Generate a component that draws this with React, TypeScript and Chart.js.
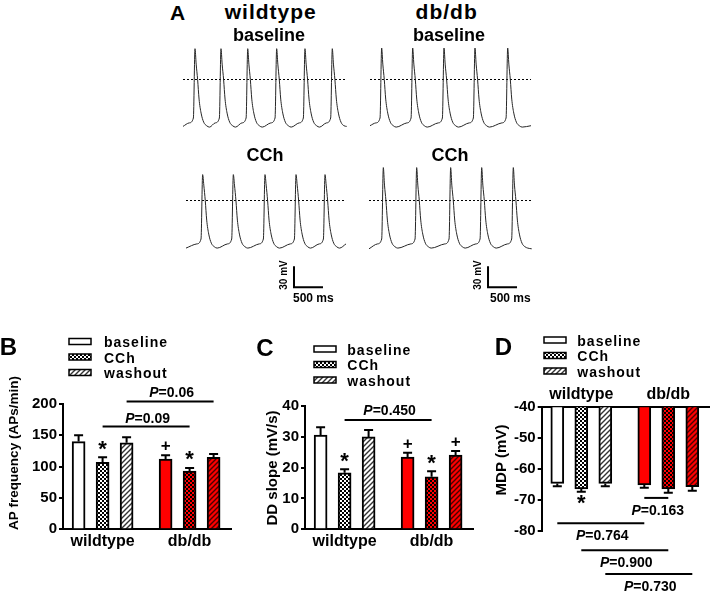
import React, { useEffect, useRef } from 'react';
import { Chart, registerables } from 'chart.js';

Chart.register(...registerables);

const FONT = 'Arial, "Liberation Sans", Helvetica, sans-serif';
Chart.defaults.font.family = FONT;
Chart.defaults.color = '#000';

/* ================= Panel A: action-potential recordings ================= */
// one AP: time relative to the peak (ms) and potential (mV); null = the trace's own peak
const AP_SHAPE_MS = [-100, -28, 0, 20, 45, 70, 105, 150, 200, 250];
const AP_SHAPE_MV: (number | null)[] = [-62, -55, null, 22, 0, -28, -48, -61, -66, -68];

const WT_BASELINE_PEAKS_MS = [207, 655, 1116, 1615, 2103, 2574];
const DB_BASELINE_PEAKS_MS = [201, 736, 1276, 1810, 2374];
const WT_CCH_PEAKS_MS = [287, 816, 1362, 1897, 2397];
const DB_CCH_PEAKS_MS = [247, 822, 1408, 1943, 2488];

// order: wildtype baseline, db/db baseline, wildtype CCh, db/db CCh
const TRACE_PEAK_MV = [44, 45, 37, 47];
const TRACE_START_MV = [-67, -66, -68, -69];
const TRACE_END_MS = [2822, 2776, 2759, 2805];
const TRACE_END_MV = [-67, -66, -62, -69];
const TRACE_PEAKS = [WT_BASELINE_PEAKS_MS, DB_BASELINE_PEAKS_MS, WT_CCH_PEAKS_MS, DB_CCH_PEAKS_MS];

const SCALE_BAR_MV = 30;
const SCALE_BAR_MS = 500;
// corner (top of the vertical bar) of the calibration bars drawn under the CCh traces
const SCALE_BAR_AT: ({ ms: number; mv: number } | null)[] = [null, null, { ms: 1862, mv: -94 }, { ms: 2052, mv: -94 }];

/* ================= Panels B-D: bar charts ================= */
const GROUPS = ['wildtype', 'db/db'];
const CONDITIONS = ['baseline', 'CCh', 'washout'];

// B: AP frequency (APs/min)  [wildtype, db/db]
const B_BASELINE = [140, 112];
const B_CCH = [107, 93];
const B_WASHOUT = [138, 115];
const B_BASELINE_SEM = [10, 6];
const B_CCH_SEM = [8, 5];
const B_WASHOUT_SEM = [9, 5];
const B_MARKS = [['', '+'], ['*', '*'], ['', '']];

// C: DD slope (mV/s)
const C_BASELINE = [30.5, 23.4];
const C_CCH = [18.3, 17.0];
const C_WASHOUT = [29.9, 24.0];
const C_BASELINE_SEM = [2.5, 1.4];
const C_CCH_SEM = [1.1, 1.8];
const C_WASHOUT_SEM = [2.2, 1.3];
const C_MARKS = [['', '+'], ['*', '*'], ['', '+']];

// D: MDP (mV)
const D_BASELINE = [-64.6, -65.1];
const D_CCH = [-66.4, -66.4];
const D_WASHOUT = [-64.6, -65.7];
const D_BASELINE_SEM = [0.9, 0.9];
const D_CCH_SEM = [0.9, 1.2];
const D_WASHOUT_SEM = [0.9, 1.3];
const D_MARKS = [['', ''], ['*', ''], ['', '']];

/* ================= layout ================= */
const PX_PER_MS = 29 / 500;
const PX_PER_MV = 21 / 30;
const TRACE_W = 166;
const T_MAX = TRACE_W / PX_PER_MS;
const MV_TOP = 55;
const TRACE_BOXES = [
  { left: 183, top: 41, h: 91 },
  { left: 370, top: 41, h: 91 },
  { left: 186, top: 162, h: 130 },
  { left: 369, top: 162, h: 130 },
];

const GROUP_GAP = 3.625;
const X_MIN = 0.35;
const X_MAX = 7.35;
const BAR_PX = 13;
const CAP_HALF = 4.5;
const groupX = (g: number) => 2 + g * GROUP_GAP;

const PANELS: any[] = [
  {
    letter: 'B', letterAt: [8.3, 346],
    box: { left: 0, top: 330, w: 240, h: 230 },
    pad: { left: 63, top: 74, right: 9, bottom: 30.7 },
    yMin: 0, yMax: 200, step: 50, xPos: 'bottom',
    values: [B_BASELINE, B_CCH, B_WASHOUT], sems: [B_BASELINE_SEM, B_CCH_SEM, B_WASHOUT_SEM],
    marks: B_MARKS, errDir: 1, markGap: 9,
    pLines: [
      { a: [0, 1], b: [1, 1], level: 164, label: '0.09' },
      { a: [0, 2], b: [1, 2], level: 204, label: '0.06' },
    ],
    pSide: -1, pGap: 9,
    legend: { boxX: 69, textX: 104, rows: [341.5, 357, 372.5] },
    yTitle: { text: 'AP frequency (APs/min)', at: [14.5, 453], size: 13.5 },
  },
  {
    letter: 'C', letterAt: [265, 347.5],
    box: { left: 240, top: 330, w: 240, h: 230 },
    pad: { left: 65, top: 75.7, right: 7, bottom: 30.7 },
    yMin: 0, yMax: 40, step: 10, xPos: 'bottom',
    values: [C_BASELINE, C_CCH, C_WASHOUT], sems: [C_BASELINE_SEM, C_CCH_SEM, C_WASHOUT_SEM],
    marks: C_MARKS, errDir: 1, markGap: 9,
    pLines: [{ a: [0, 1], b: [1, 1], level: 35.4, label: '0.450' }],
    pSide: -1, pGap: 10,
    legend: { boxX: 314, textX: 347.3, rows: [349, 364.5, 380] },
    yTitle: { text: 'DD slope (mV/s)', at: [273.3, 468], size: 15 },
  },
  {
    letter: 'D', letterAt: [503.3, 346],
    box: { left: 470, top: 330, w: 240, h: 261 },
    pad: { left: 71.7, top: 77.3, right: 0.3, bottom: 60 },
    yMin: -80, yMax: -40, step: 10, xPos: 'top',
    values: [D_BASELINE, D_CCH, D_WASHOUT], sems: [D_BASELINE_SEM, D_CCH_SEM, D_WASHOUT_SEM],
    marks: D_MARKS, errDir: -1, markGap: 11,
    pLines: [
      { a: [1, 0], b: [1, 1], level: -69.3, label: '0.163' },
      { a: [0, 0], b: [1, 0], level: -77.5, label: '0.764' },
      { a: [0, 1], b: [1, 1], level: -86.2, label: '0.900' },
      { a: [0, 2], b: [1, 2], level: -93.9, label: '0.730' },
    ],
    pSide: 1, pGap: 12,
    legend: { boxX: 544, textX: 577.3, rows: [340, 355.5, 371] },
    yTitle: { text: 'MDP (mV)', at: [501.7, 460], size: 15 },
  },
];

// panel A text: baseline-positioned
const A_LABELS: any[] = [
  { text: 'A', x: 177.5, base: 20, size: 21 },
  { text: 'wildtype', x: 270.8, base: 18.5, size: 21, ls: 1 },
  { text: 'db/db', x: 446.7, base: 18.5, size: 21, ls: 1 },
  { text: 'baseline', x: 269, base: 41.7, size: 18 },
  { text: 'baseline', x: 449, base: 41.7, size: 18 },
  { text: 'CCh', x: 265, base: 161.7, size: 18 },
  { text: 'CCh', x: 450, base: 161.7, size: 18 },
  { text: '500 ms', x: 293, base: 301.7, size: 12, left: true },
  { text: '500 ms', x: 490, base: 301.7, size: 12, left: true },
  { text: '30 mV', x: 284.3, cy: 275, size: 10, rot: true },
  { text: '30 mV', x: 478.3, cy: 275, size: 10, rot: true },
];

/* ================= helpers ================= */
type Part = { text: string; italic?: boolean };
function drawInk(ctx: CanvasRenderingContext2D, parts: Part[], x: number, cy: number, size: number, align = 'center', spacing = 0) {
  ctx.save();
  (ctx as any).letterSpacing = spacing + 'px';
  const fonts = parts.map((p) => `${p.italic ? 'italic ' : ''}bold ${size}px ${FONT}`);
  let w = 0, asc = 0, desc = 0;
  parts.forEach((p, i) => {
    ctx.font = fonts[i];
    const m = ctx.measureText(p.text);
    w += m.width;
    asc = Math.max(asc, m.actualBoundingBoxAscent);
    desc = Math.max(desc, m.actualBoundingBoxDescent);
  });
  let px = align === 'center' ? x - w / 2 : x;
  const py = cy + (asc - desc) / 2;
  ctx.fillStyle = '#000';
  ctx.textAlign = 'left';
  ctx.textBaseline = 'alphabetic';
  parts.forEach((p, i) => {
    ctx.font = fonts[i];
    ctx.fillText(p.text, px, py);
    px += ctx.measureText(p.text).width;
  });
  ctx.restore();
}

function makeChecker(a: string, b: string, cell = 2) {
  const c = document.createElement('canvas');
  c.width = c.height = cell * 2;
  const x = c.getContext('2d')!;
  x.fillStyle = b;
  x.fillRect(0, 0, cell * 2, cell * 2);
  x.fillStyle = a;
  x.fillRect(0, 0, cell, cell);
  x.fillRect(cell, cell, cell, cell);
  return x.createPattern(c, 'repeat')!;
}
function makeHatch(line: string, bg: string, s = 5) {
  const c = document.createElement('canvas');
  c.width = c.height = s;
  const x = c.getContext('2d')!;
  x.fillStyle = bg;
  x.fillRect(0, 0, s, s);
  x.strokeStyle = line;
  x.lineWidth = 1.4;
  x.beginPath();
  x.moveTo(-1, s + 1); x.lineTo(s + 1, -1);
  x.moveTo(-1, 1); x.lineTo(1, -1);
  x.moveTo(s - 1, s + 1); x.lineTo(s + 1, s - 1);
  x.stroke();
  return x.createPattern(c, 'repeat')!;
}

function buildTrace(i: number) {
  const pts: { x: number; y: number }[] = [{ x: 0, y: TRACE_START_MV[i] }];
  TRACE_PEAKS[i].forEach((p) => {
    AP_SHAPE_MS.forEach((dt, k) => {
      const t = p + dt;
      const mv = AP_SHAPE_MV[k];
      if (t > 0 && t < TRACE_END_MS[i]) pts.push({ x: t, y: mv === null ? TRACE_PEAK_MV[i] : mv });
    });
  });
  pts.push({ x: TRACE_END_MS[i], y: TRACE_END_MV[i] });
  return pts;
}

function traceChart(canvas: HTMLCanvasElement, i: number) {
  const h = TRACE_BOXES[i].h;
  const datasets: any[] = [
    {
      data: buildTrace(i), showLine: true, borderColor: '#262626', borderWidth: 1,
      pointRadius: 0, cubicInterpolationMode: 'monotone', fill: false,
    },
    {
      data: [{ x: 0, y: 0 }, { x: TRACE_END_MS[i], y: 0 }], showLine: true, borderColor: '#000',
      borderWidth: 1, borderDash: [2, 2], pointRadius: 0, fill: false,
    },
  ];
  const sb = SCALE_BAR_AT[i];
  if (sb) {
    datasets.push({
      data: [
        { x: sb.ms, y: sb.mv },
        { x: sb.ms, y: sb.mv - SCALE_BAR_MV },
        { x: sb.ms + SCALE_BAR_MS, y: sb.mv - SCALE_BAR_MV },
      ],
      showLine: true, borderColor: '#000', borderWidth: 2, pointRadius: 0, fill: false, tension: 0,
      borderJoinStyle: 'miter', clip: false,
    });
  }
  return new Chart(canvas, {
    type: 'scatter',
    data: { datasets },
    options: {
      responsive: false, animation: false, events: [],
      layout: { padding: 0 },
      plugins: { legend: { display: false }, tooltip: { enabled: false } },
      scales: {
        x: { type: 'linear', display: false, min: 0, max: T_MAX },
        y: { type: 'linear', display: false, min: MV_TOP - h / PX_PER_MV, max: MV_TOP },
      },
    } as any,
  });
}

function barChart(canvas: HTMLCanvasElement, P: any, fills: any[][]) {
  const ox = P.box.left, oy = P.box.top;
  const decor = {
    id: 'decor' + P.letter,
    afterDatasetsDraw(chart: any) {
      const ctx: CanvasRenderingContext2D = chart.ctx;
      const ys = chart.scales.y;
      ctx.save();
      ctx.strokeStyle = '#000';
      ctx.lineWidth = 2;
      CONDITIONS.forEach((_, c) => {
        const meta = chart.getDatasetMeta(c);
        meta.data.forEach((el: any, g: number) => {
          const v = P.values[c][g];
          const e = P.sems[c][g];
          const yEnd = ys.getPixelForValue(v + P.errDir * e);
          ctx.beginPath();
          ctx.moveTo(el.x, el.y);
          ctx.lineTo(el.x, yEnd);
          ctx.moveTo(el.x - CAP_HALF, yEnd);
          ctx.lineTo(el.x + CAP_HALF, yEnd);
          ctx.stroke();
          const mk = P.marks[c][g];
          if (mk) drawInk(ctx, [{ text: mk }], el.x, yEnd - P.errDir * P.markGap, mk === '*' ? 22 : 17);
        });
      });
      P.pLines.forEach((pl: any) => {
        const xa = chart.getDatasetMeta(pl.a[1]).data[pl.a[0]].x;
        const xb = chart.getDatasetMeta(pl.b[1]).data[pl.b[0]].x;
        const yy = ys.getPixelForValue(pl.level);
        ctx.beginPath();
        ctx.moveTo(xa, yy);
        ctx.lineTo(xb, yy);
        ctx.stroke();
        drawInk(ctx, [{ text: 'P', italic: true }, { text: '=' + pl.label }], (xa + xb) / 2 + 1.5, yy + P.pSide * P.pGap, 14);
      });
      ctx.restore();
    },
    afterDraw(chart: any) {
      const ctx: CanvasRenderingContext2D = chart.ctx;
      drawInk(ctx, [{ text: P.letter }], P.letterAt[0] - ox, P.letterAt[1] - oy, 24);
      const L = P.legend;
      CONDITIONS.forEach((name, c) => {
        const ry = L.rows[c] - oy;
        ctx.save();
        ctx.fillStyle = fills[0][c];
        ctx.fillRect(L.boxX - ox, ry - 3, 22, 6);
        ctx.strokeStyle = '#000';
        ctx.lineWidth = 1.5;
        ctx.strokeRect(L.boxX - ox, ry - 3, 22, 6);
        ctx.restore();
        drawInk(ctx, [{ text: name }], L.textX - ox, ry, 14, 'left', 1);
      });
      const T = P.yTitle;
      ctx.save();
      ctx.translate(T.at[0] - ox, T.at[1] - oy);
      ctx.rotate(-Math.PI / 2);
      drawInk(ctx, [{ text: T.text }], 0, 0, T.size);
      ctx.restore();
    },
  };

  const datasets = CONDITIONS.map((name, c) => ({
    label: name,
    data: GROUPS.map((_, g) => ({ x: groupX(g) + (c - 1), y: P.values[c][g] })),
    backgroundColor: GROUPS.map((_, g) => fills[g][c]),
    borderColor: '#000',
    borderWidth: 2,
    barThickness: BAR_PX,
    grouped: false,
  }));

  // the axes own the margin on their side so that their labels are not clipped
  const xSide = P.xPos === 'top' ? 'top' : 'bottom';
  const padding = { ...P.pad, left: 0, [xSide]: 0 };

  return new Chart(canvas, {
    type: 'bar',
    data: { datasets } as any,
    options: {
      responsive: false, animation: false, events: [],
      layout: { padding },
      plugins: { legend: { display: false }, tooltip: { enabled: false }, title: { display: false } },
      scales: {
        x: {
          type: 'linear', position: P.xPos, min: X_MIN, max: X_MAX, offset: false,
          afterFit: (s: any) => { s.height = P.pad[xSide]; },
          afterBuildTicks: (s: any) => { s.ticks = GROUPS.map((_, g) => ({ value: groupX(g) })); },
          grid: { display: false, drawTicks: false, tickLength: 0 },
          border: { display: true, color: '#000', width: 2 },
          ticks: {
            color: '#000', font: { size: 16, weight: 'bold', family: FONT }, padding: 3,
            autoSkip: false, maxRotation: 0, minRotation: 0,
            callback: (_v: any, i: number) => GROUPS[i],
          },
        },
        y: {
          type: 'linear', min: P.yMin, max: P.yMax, beginAtZero: false,
          afterFit: (s: any) => { s.width = P.pad.left; },
          ticks: { stepSize: P.step, color: '#000', font: { size: 15, weight: 'bold', family: FONT }, padding: 2 },
          grid: { display: true, drawOnChartArea: false, drawTicks: true, tickLength: 4, color: '#000', lineWidth: 2 },
          border: { display: true, color: '#000', width: 2 },
        },
      },
    } as any,
    plugins: [decor as any],
  });
}

export default function App() {
  const traceRefs = useRef<(HTMLCanvasElement | null)[]>([]);
  const panelRefs = useRef<(HTMLCanvasElement | null)[]>([]);

  useEffect(() => {
    const charts: Chart[] = [];
    const RED = '#ff0000';
    const fills = [
      ['#ffffff', makeChecker('#000000', '#ffffff'), makeHatch('#333333', '#ffffff')],
      [RED, makeChecker('#000000', RED), makeHatch('#4a0000', RED)],
    ];
    TRACE_BOXES.forEach((_, i) => {
      const c = traceRefs.current[i];
      if (c) charts.push(traceChart(c, i));
    });
    PANELS.forEach((P, i) => {
      const c = panelRefs.current[i];
      if (c) charts.push(barChart(c, P, fills));
    });
    return () => charts.forEach((c) => c.destroy());
  }, []);

  return (
    <div style={{ position: 'absolute', left: 0, top: 0, width: 710, height: 591, background: '#fff', overflow: 'hidden', fontFamily: FONT }}>
      {TRACE_BOXES.map((b, i) => (
        <canvas
          key={'t' + i}
          ref={(el) => { traceRefs.current[i] = el; }}
          width={TRACE_W}
          height={b.h}
          style={{ position: 'absolute', left: b.left, top: b.top, width: TRACE_W, height: b.h }}
        />
      ))}
      {PANELS.map((P, i) => (
        <canvas
          key={'p' + i}
          ref={(el) => { panelRefs.current[i] = el; }}
          width={P.box.w}
          height={P.box.h}
          style={{ position: 'absolute', left: P.box.left, top: P.box.top, width: P.box.w, height: P.box.h }}
        />
      ))}
      {A_LABELS.map((L, i) => {
        const common: any = {
          position: 'absolute', fontWeight: 'bold', fontSize: L.size, lineHeight: L.size + 'px',
          whiteSpace: 'nowrap', letterSpacing: (L.ls || 0) + 'px', color: '#000',
        };
        if (L.rot) {
          return (
            <div key={'l' + i} style={{ ...common, left: L.x, top: L.cy, transform: 'translate(-50%, -50%) rotate(-90deg)' }}>
              {L.text}
            </div>
          );
        }
        return (
          <div
            key={'l' + i}
            style={{ ...common, left: L.x, top: L.base - 0.8465 * L.size, transform: L.left ? 'none' : 'translateX(-50%)' }}
          >
            {L.text}
          </div>
        );
      })}
    </div>
  );
}
